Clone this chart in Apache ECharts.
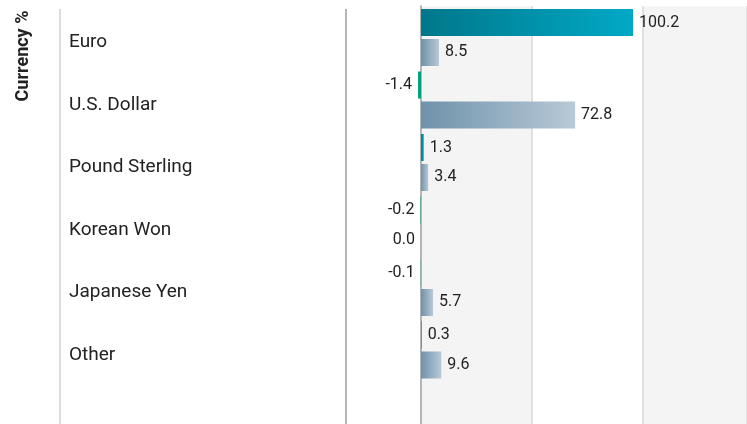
<!DOCTYPE html>
<html>
<head>
<meta charset="utf-8">
<script src="https://cdn.jsdelivr.net/npm/echarts@6/dist/echarts.min.js"></script>
<style>html,body{margin:0;padding:0;background:#fff;}#chart{width:747px;height:424px;}</style>
</head>
<body>
<div id="chart"></div>
<script>
const categories = ['Euro', 'U.S. Dollar', 'Pound Sterling', 'Korean Won', 'Japanese Yen', 'Other', ''];
const portfolio = [100.2, -1.4, 1.3, -0.2, -0.1, 0.3];
const benchmark = [8.5, 72.8, 3.4, 0.0, 5.7, 9.6];
const axisMin = 0;
const axisMax = 154;
const axisInterval = 52.45;

const chart = echarts.init(document.getElementById('chart'));
const teal = new echarts.graphic.LinearGradient(0, 0, 1, 0, [
  {offset: 0, color: '#00778a'}, {offset: 1, color: '#00a9c6'}
]);
const steel = new echarts.graphic.LinearGradient(0, 0, 1, 0, [
  {offset: 0, color: '#6e92aa'}, {offset: 1, color: '#b9c9d7'}
]);
function mk(arr) {
  return arr.map(v => ({value: v, label: {position: v <= 0 ? 'left' : 'right'}}));
}
const labelCfg = {
  show: true, distance: 6, color: '#222', fontFamily: 'Roboto', fontSize: 16,
  formatter: p => Number(p.value).toFixed(1)
};
chart.setOption({
  animation: false,
  grid: {left: 421, top: 6.25, right: 0, bottom: -19.75, containLabel: false, outerBoundsMode: 'none'},
  xAxis: {
    type: 'value', min: axisMin, max: axisMax, interval: axisInterval,
    axisLabel: {show: false}, axisTick: {show: false}, axisLine: {show: false},
    splitLine: {show: true, lineStyle: {color: '#e0e0e0', width: 2}},
    splitArea: {show: true, areaStyle: {color: ['#f4f4f4', '#ffffff']}}
  },
  yAxis: {
    type: 'category', data: categories, inverse: true,
    axisLine: {show: true, lineStyle: {color: '#b5b5b5', width: 2}},
    axisTick: {show: false},
    axisLabel: {align: 'left', verticalAlign: 'top', lineHeight: 10, margin: 352, color: '#222', fontFamily: 'Roboto', fontSize: 19},
    splitLine: {show: false}
  },
  graphic: [
    {type: 'line', shape: {x1: 60, y1: 9, x2: 60, y2: 424}, style: {stroke: '#dcdcdc', lineWidth: 2}},
    {type: 'line', shape: {x1: 346, y1: 9, x2: 346, y2: 424}, style: {stroke: '#b5b5b5', lineWidth: 2}},
    {type: 'text', x: 23, y: 56, rotation: Math.PI / 2,
     style: {text: 'Currency %', font: 'bold 18px Roboto', fill: '#222', align: 'center', verticalAlign: 'middle'}}
  ],
  series: [
    {
      name: 'Portfolio', type: 'bar', data: mk(portfolio), barWidth: 27, barGap: '11%', clip: false,
      itemStyle: {color: p => (p.value < 0 ? '#00a07a' : teal)},
      label: labelCfg
    },
    {
      name: 'Benchmark', type: 'bar', data: mk(benchmark), barWidth: 27, barGap: '11%', clip: false,
      itemStyle: {color: steel},
      label: labelCfg
    }
  ]
});
</script>
</body>
</html>
